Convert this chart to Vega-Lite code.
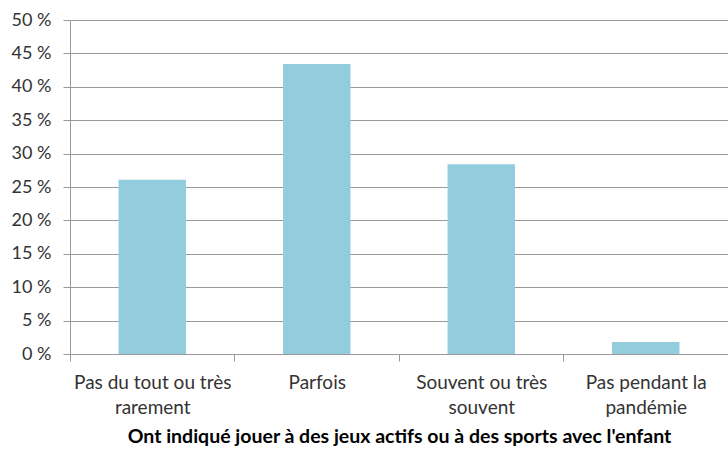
{
  "$schema": "https://vega.github.io/schema/vega-lite/v6.json",
  "width": 658,
  "height": 334,
  "autosize": "none",
  "padding": {"left": 70, "top": 20, "right": 0, "bottom": 97},
  "background": "white",
  "config": {
    "view": {"stroke": null},
    "font": "Lato",
    "axis": {"labelColor": "#333333", "labelFont": "Lato", "titleFont": "Lato"}
  },
  "data": {
    "values": [
      {"categorie": "Pas du tout ou très rarement", "pourcentage": 26.1},
      {"categorie": "Parfois", "pourcentage": 43.4},
      {"categorie": "Souvent ou très souvent", "pourcentage": 28.4},
      {"categorie": "Pas pendant la pandémie", "pourcentage": 1.8}
    ]
  },
  "mark": {"type": "bar", "color": "#93CDDD"},
  "encoding": {
    "x": {
      "field": "categorie",
      "type": "nominal",
      "sort": null,
      "scale": {"paddingInner": 0.59, "paddingOuter": 0.295},
      "axis": {
        "title": "Ont indiqué jouer à des jeux actifs ou à des sports avec l'enfant",
        "titleFontWeight": "bold",
        "titleFontSize": 19.5,
        "titleColor": "#000000",
        "titlePadding": 10,
        "labelAngle": 0,
        "labelFontSize": 19,
        "labelLineHeight": 25,
        "labelPadding": 12,
        "labelBaseline": "top",
        "tickOffset": -82.25,
        "labelOffset": 82.25,
        "labelExpr": "datum.label == 'Pas du tout ou très rarement' ? ['Pas du tout ou très', 'rarement'] : datum.label == 'Souvent ou très souvent' ? ['Souvent ou très', 'souvent'] : datum.label == 'Pas pendant la pandémie' ? ['Pas pendant la', 'pandémie'] : datum.label",
        "domainColor": "#999999",
        "tickColor": "#999999",
        "tickSize": 7,
        "grid": false
      }
    },
    "y": {
      "field": "pourcentage",
      "type": "quantitative",
      "scale": {"domain": [0, 50], "nice": false},
      "axis": {
        "title": null,
        "values": [0, 5, 10, 15, 20, 25, 30, 35, 40, 45, 50],
        "labelExpr": "datum.value + ' %'",
        "labelFontSize": 18,
        "labelPadding": 12,
        "tickSize": 7,
        "tickColor": "#999999",
        "domainColor": "#999999",
        "gridColor": "#999999",
        "grid": true
      }
    }
  }
}
